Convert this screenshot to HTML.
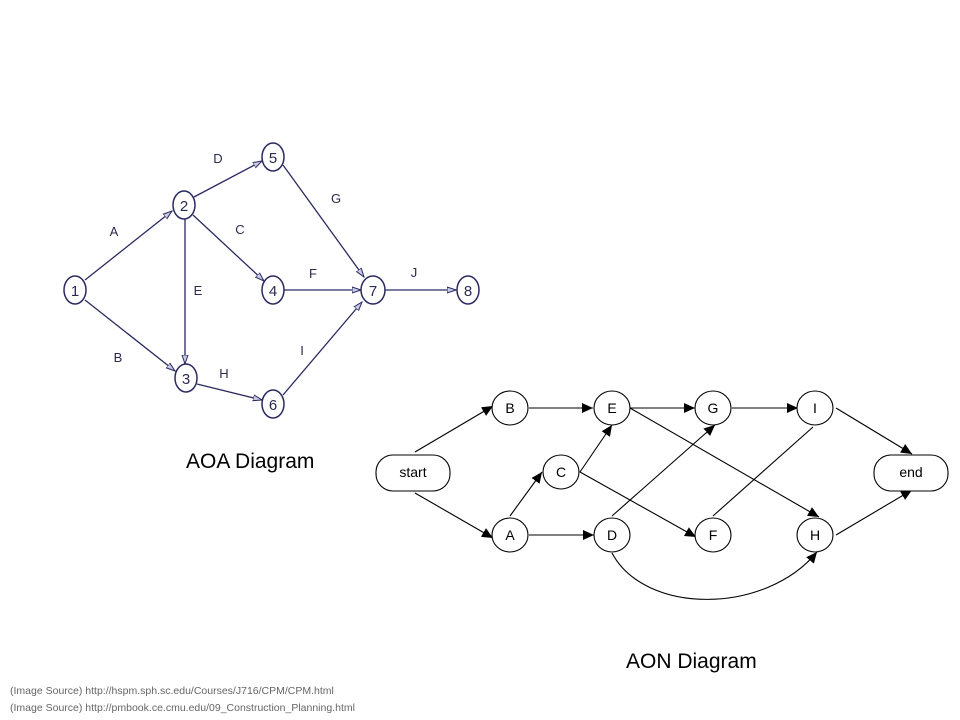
<!DOCTYPE html>
<html><head><meta charset="utf-8"><style>
html,body{margin:0;padding:0;background:#fff;width:960px;height:720px;overflow:hidden}
svg{display:block}
</style></head><body>
<svg width="960" height="720" viewBox="0 0 960 720" xmlns="http://www.w3.org/2000/svg">
<defs>
<marker id="ao" markerWidth="10" markerHeight="8" refX="9" refY="4" orient="auto" markerUnits="userSpaceOnUse">
<path d="M0,1 L9,4 L0,7 Z" fill="#c8c8e8" stroke="#2a2a60" stroke-width="1"/>
</marker>
<marker id="an" markerWidth="12" markerHeight="10" refX="11" refY="5" orient="auto" markerUnits="userSpaceOnUse">
<path d="M0,0 L11,5 L0,10 Z" fill="#000"/>
</marker>
</defs>
<!-- AOA -->
<g stroke="#2a2a60" stroke-width="1.3" fill="none" marker-end="url(#ao)">
<line x1="85" y1="280" x2="172" y2="211"/>
<line x1="85" y1="300" x2="175" y2="371"/>
<line x1="194" y1="197" x2="262" y2="161"/>
<line x1="193" y1="215" x2="264" y2="281"/>
<line x1="185" y1="219" x2="185" y2="364"/>
<line x1="283" y1="165" x2="364" y2="277"/>
<line x1="284" y1="290" x2="361" y2="290"/>
<line x1="197" y1="384" x2="262" y2="400"/>
<line x1="283" y1="395" x2="362" y2="302"/>
<line x1="385" y1="290" x2="456" y2="290"/>
</g>
<g stroke="#2a2a60" stroke-width="1.5" fill="#fff">
<ellipse cx="75" cy="290" rx="11" ry="14"/>
<ellipse cx="184" cy="205" rx="11" ry="14"/>
<ellipse cx="273" cy="157" rx="11" ry="14"/>
<ellipse cx="273" cy="290" rx="11" ry="14"/>
<ellipse cx="373" cy="290" rx="12" ry="14"/>
<ellipse cx="468" cy="290" rx="11" ry="14"/>
<ellipse cx="186" cy="378" rx="11" ry="14"/>
<ellipse cx="273" cy="404" rx="11" ry="14"/>
</g>
<g font-family="Liberation Sans, sans-serif" font-size="15" fill="#2a2a50" text-anchor="middle">
<text x="75" y="296">1</text><text x="184" y="211">2</text><text x="273" y="163">5</text>
<text x="273" y="296">4</text><text x="373" y="296">7</text><text x="468" y="296">8</text>
<text x="186" y="384">3</text><text x="273" y="410">6</text>
</g>
<g font-family="Liberation Sans, sans-serif" font-size="13" fill="#2a2a50" text-anchor="middle">
<text x="114" y="236">A</text><text x="118" y="362">B</text><text x="218" y="163">D</text>
<text x="240" y="234">C</text><text x="198" y="295">E</text><text x="336" y="203">G</text>
<text x="313" y="278">F</text><text x="224" y="378">H</text><text x="302" y="355">I</text>
<text x="414" y="277">J</text>
</g>
<!-- AON -->
<g stroke="#000" stroke-width="1.1" fill="none" marker-end="url(#an)">
<line x1="415" y1="452" x2="493" y2="406"/>
<line x1="415" y1="493" x2="493" y2="538"/>
<line x1="529" y1="408" x2="593" y2="408"/>
<line x1="630" y1="408" x2="695" y2="408"/>
<line x1="732" y1="408" x2="798" y2="408"/>
<line x1="836" y1="408" x2="912" y2="454"/>
<line x1="836" y1="535" x2="912" y2="490"/>
<line x1="510" y1="516" x2="542" y2="472"/>
<line x1="580" y1="472" x2="612" y2="425"/>
<line x1="580" y1="472" x2="696" y2="537"/>
<line x1="630" y1="408" x2="819" y2="517"/>
<line x1="612" y1="516" x2="715" y2="425"/>
<path d="M612,553 C645,615 765,615 817,552"/>
<line x1="529" y1="535" x2="594" y2="535"/>
</g>
<line x1="713" y1="516" x2="813" y2="427" stroke="#000" stroke-width="1.1"/>
<g stroke="#000" stroke-width="1.1" fill="#fff">
<ellipse cx="510" cy="408" rx="18" ry="17"/>
<ellipse cx="612" cy="408" rx="18" ry="17"/>
<ellipse cx="713" cy="408" rx="18" ry="17"/>
<ellipse cx="815" cy="408" rx="18" ry="17"/>
<ellipse cx="561" cy="472" rx="18" ry="17"/>
<ellipse cx="510" cy="535" rx="18" ry="17"/>
<ellipse cx="612" cy="535" rx="18" ry="17"/>
<ellipse cx="713" cy="535" rx="18" ry="17"/>
<ellipse cx="815" cy="535" rx="18" ry="17"/>
<rect x="376" y="455" width="74" height="36" rx="17"/>
<rect x="874" y="455" width="74" height="36" rx="17"/>
</g>
<g font-family="Liberation Sans, sans-serif" font-size="14" fill="#000" text-anchor="middle">
<text x="510" y="413">B</text><text x="612" y="413">E</text><text x="713" y="413">G</text>
<text x="815" y="413">I</text><text x="561" y="477">C</text><text x="510" y="540">A</text>
<text x="612" y="540">D</text><text x="713" y="540">F</text><text x="815" y="540">H</text>
<text x="413" y="477">start</text><text x="911" y="477">end</text>
</g>
<g font-family="Liberation Sans, sans-serif" font-size="21" fill="#000">
<text x="186" y="468">AOA Diagram</text>
<text x="626" y="668">AON Diagram</text>
</g>
<g font-family="Liberation Sans, sans-serif" font-size="10.5" fill="#666">
<text x="10" y="694">(Image Source) http://hspm.sph.sc.edu/Courses/J716/CPM/CPM.html</text>
<text x="10" y="711">(Image Source) http://pmbook.ce.cmu.edu/09_Construction_Planning.html</text>
</g>
</svg>
</body></html>
